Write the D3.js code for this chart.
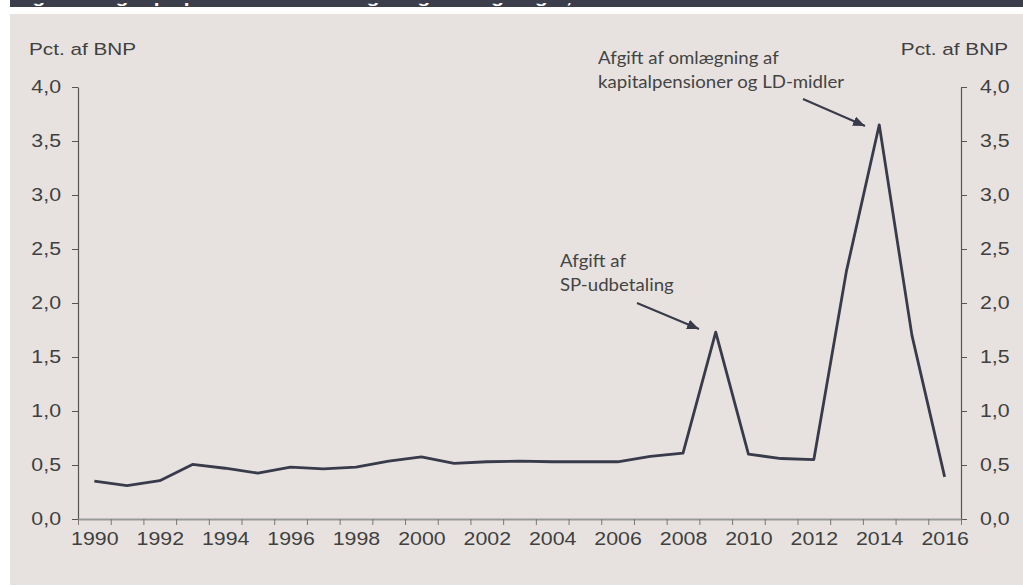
<!DOCTYPE html>
<html>
<head>
<meta charset="utf-8">
<script src="https://cdn.jsdelivr.net/npm/d3@7"></script>
<style>
  html, body { margin: 0; padding: 0; background: #ffffff; }
  svg { display: block; }
</style>
</head>
<body>
<svg id="chart" width="1023" height="586"></svg>
<script>
// Afgift som andel af BNP, 1990-2016
const years = d3.range(1990, 2017);
const values = [0.35, 0.31, 0.355, 0.505, 0.47, 0.425, 0.48, 0.465, 0.48, 0.535, 0.575,
                0.515, 0.53, 0.535, 0.53, 0.53, 0.53, 0.58, 0.61, 1.73, 0.60, 0.56, 0.55,
                2.30, 3.65, 1.70, 0.39];
const yTicks = [0, 0.5, 1.0, 1.5, 2.0, 2.5, 3.0, 3.5, 4.0];
const xLabelYears = d3.range(1990, 2017, 2);
const axisTitle = "Pct. af BNP";
const titleText = "Figur 3. Afgift på pensionsudbetalinger og omlægninger, 1990-2016";
const notes = [
  { lines: ["Afgift af", "SP-udbetaling"], year: 2009 },
  { lines: ["Afgift af omlægning af", "kapitalpensioner og LD-midler"], year: 2014 }
];

const svg = d3.select("#chart");
const W = 1023, H = 586;
const plot = { left: 78, right: 961, top: 87, bottom: 519 };
const SX = 1.22; // horizontal stretch of the chart lettering

const ink = "#404040";
const lineColor = "#393b4b";
const panel = "#e7e2df";

// frame: header band and panel
svg.append("rect").attr("x", 10).attr("y", 0).attr("width", W - 10).attr("height", 7).attr("fill", "#3d3e4c");
svg.append("clipPath").attr("id", "hdr").append("rect").attr("x", 10).attr("y", 0).attr("width", W - 10).attr("height", 7);
svg.append("text")
  .attr("clip-path", "url(#hdr)")
  .attr("transform", `translate(14,3) scale(${SX},1)`)
  .attr("font-family", "Liberation Sans, Arial, sans-serif")
  .attr("font-weight", "bold")
  .attr("font-size", 17)
  .attr("fill", "#ffffff")
  .text(titleText);
svg.append("rect").attr("x", 10).attr("y", 14).attr("width", W - 10).attr("height", 571).attr("fill", panel);

const x = d3.scaleLinear().domain([1989.5, 2016.5]).range([plot.left, plot.right]);
const y = d3.scaleLinear().domain([0, 4]).range([plot.bottom, plot.top]);
const fmt = v => d3.format(".1f")(v).replace(".", ",");

function stretch(sel) {
  sel.each(function () {
    const t = d3.select(this);
    const x0 = +t.attr("x") || 0;
    t.attr("x", x0 / SX).attr("transform", `scale(${SX},1)`);
  });
}

const fontAxis = "Liberation Sans, Arial, sans-serif";

// left axis
const gL = svg.append("g").attr("transform", `translate(${plot.left},0)`)
  .call(d3.axisLeft(y).tickValues(yTicks).tickFormat(fmt).tickSize(6).tickPadding(11).tickSizeOuter(0));
// right axis
const gR = svg.append("g").attr("transform", `translate(${plot.right},0)`)
  .call(d3.axisRight(y).tickValues(yTicks).tickFormat(fmt).tickSize(6).tickPadding(13).tickSizeOuter(0));
[gL, gR].forEach(g => {
  g.select(".domain").attr("stroke", "#555555").attr("stroke-width", 1.2);
  g.selectAll(".tick line").attr("stroke", "#555555");
  g.selectAll(".tick text").attr("fill", ink).attr("font-family", fontAxis).attr("font-size", 17.5).call(stretch);
});

// bottom axis: marks between years, labels on every second year
const bounds = d3.range(1989.5, 2017, 1);
const gB = svg.append("g").attr("transform", `translate(0,${plot.bottom})`)
  .call(d3.axisBottom(x).tickValues(bounds).tickFormat("").tickSize(6).tickSizeOuter(0));
gB.select(".domain").attr("stroke", "#999999").attr("stroke-width", 2);
gB.selectAll(".tick line").attr("stroke", "#777777");
const gBL = svg.append("g").attr("transform", `translate(0,${plot.bottom})`)
  .call(d3.axisBottom(x).tickValues(xLabelYears).tickFormat(d3.format("d")).tickSize(0).tickPadding(14));
gBL.select(".domain").remove();
gBL.selectAll(".tick text").attr("fill", ink).attr("font-family", fontAxis).attr("font-size", 17.5).call(stretch);

// axis titles
svg.append("text").attr("transform", `translate(29,55) scale(${SX},1)`)
  .attr("font-family", fontAxis).attr("font-size", 17).attr("fill", ink).text(axisTitle);
svg.append("text").attr("transform", `translate(1008,55) scale(${SX},1)`).attr("text-anchor", "end")
  .attr("font-family", fontAxis).attr("font-size", 17).attr("fill", ink).text(axisTitle);

// series line
const line = d3.line().x((d, i) => x(years[i])).y(d => y(d));
svg.append("path").datum(values)
  .attr("d", line)
  .attr("fill", "none")
  .attr("stroke", lineColor)
  .attr("stroke-width", 2.8)
  .attr("stroke-linejoin", "round");

// annotations with arrows
svg.append("defs").append("marker")
  .attr("id", "arrow").attr("viewBox", "0 0 12 10").attr("refX", 12).attr("refY", 5)
  .attr("markerWidth", 12).attr("markerHeight", 10).attr("markerUnits", "userSpaceOnUse")
  .attr("orient", "auto")
  .append("path").attr("d", "M0,0 L12,5 L0,10 Z").attr("fill", lineColor);

const noteFont = "Lato, 'Open Sans', sans-serif";
const noteLayout = [
  { tx: 560, ty: 267, arrow: [637, 303, 699, 329] },
  { tx: 598, ty: 64, arrow: [803, 99, 865, 126] }
];
notes.forEach((n, k) => {
  const L = noteLayout[k];
  const t = svg.append("text").attr("transform", `translate(${L.tx},${L.ty}) scale(1.13,1)`)
    .attr("font-family", noteFont).attr("font-size", 16.5).attr("fill", "#444444");
  n.lines.forEach((s, i) => t.append("tspan").attr("x", 0).attr("y", i * 24).text(s));
  svg.append("line")
    .attr("x1", L.arrow[0]).attr("y1", L.arrow[1]).attr("x2", L.arrow[2]).attr("y2", L.arrow[3])
    .attr("stroke", lineColor).attr("stroke-width", 2).attr("marker-end", "url(#arrow)");
});
</script>
</body>
</html>
